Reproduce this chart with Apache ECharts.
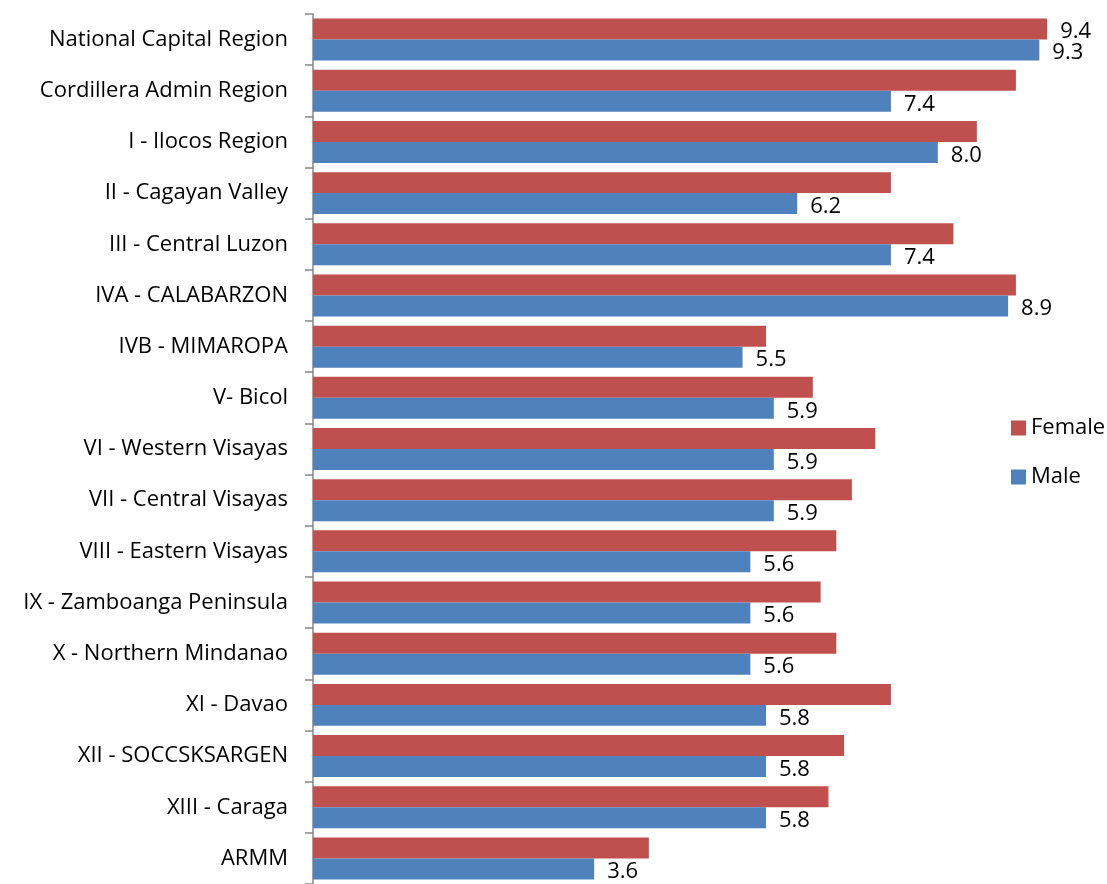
<!DOCTYPE html>
<html>
<head>
<meta charset="utf-8">
<script src="https://cdn.jsdelivr.net/npm/echarts@6/dist/echarts.min.js"></script>
<style>
html,body{margin:0;padding:0;background:#fff;}
#chart{width:1107px;height:884px;}
</style>
</head>
<body>
<div id="chart"></div>
<script>
var categories = [
  "National Capital Region","Cordillera Admin Region","I - Ilocos Region","II - Cagayan Valley",
  "III - Central Luzon","IVA - CALABARZON","IVB - MIMAROPA","V- Bicol","VI - Western Visayas",
  "VII - Central Visayas","VIII - Eastern Visayas","IX - Zamboanga Peninsula","X - Northern Mindanao",
  "XI - Davao","XII - SOCCSKSARGEN","XIII - Caraga","ARMM"
];
var femaleValues = [9.4, 9.0, 8.5, 7.4, 8.2, 9.0, 5.8, 6.4, 7.2, 6.9, 6.7, 6.5, 6.7, 7.4, 6.8, 6.6, 4.3];
var maleValues = [9.3, 7.4, 8.0, 6.2, 7.4, 8.9, 5.5, 5.9, 5.9, 5.9, 5.6, 5.6, 5.6, 5.8, 5.8, 5.8, 3.6];
var femaleLabelled = [0];

var FONT = '"Open Sans"';
var FS = 22;
var chart = echarts.init(document.getElementById('chart'), null, {renderer: 'canvas'});
var labelStyle = {show: true, position: 'right', distance: 13, offset: [0, 3], fontFamily: FONT, fontSize: FS, color: '#000',
  formatter: function (p) { return p.value.toFixed(1); }};
var femaleData = femaleValues.map(function (v, i) {
  return femaleLabelled.indexOf(i) >= 0 ? {value: v, label: labelStyle} : {value: v};
});
chart.setOption({
  animation: false,
  backgroundColor: '#fff',
  grid: {left: 313, top: 14, width: 781, height: 872, containLabel: false},
  legend: {
    orient: 'vertical', left: 1006, top: 412, itemWidth: 15, itemHeight: 15, itemGap: 27,
    icon: 'rect', data: ['Female', 'Male'],
    textStyle: {fontFamily: FONT, fontSize: FS, color: '#000', lineHeight: 15}
  },
  xAxis: {type: 'value', min: 0, max: 10, show: false, splitLine: {show: false}},
  yAxis: {
    type: 'category', data: categories, inverse: true,
    axisLine: {show: true, lineStyle: {color: '#868686', width: 1.5}},
    axisTick: {show: true, length: 8, lineStyle: {color: '#868686', width: 1.5}},
    axisLabel: {fontFamily: FONT, fontSize: FS, color: '#000', margin: 25, padding: [3, 0, 0, 0]}
  },
  series: [
    {name: 'Female', type: 'bar', data: femaleData, barGap: '0%', barCategoryGap: '18%',
      itemStyle: {color: '#C0504D'}},
    {name: 'Male', type: 'bar', data: maleValues, barGap: '0%', barCategoryGap: '18%',
      itemStyle: {color: '#4F81BD'}, label: labelStyle}
  ]
});
</script>
</body>
</html>
